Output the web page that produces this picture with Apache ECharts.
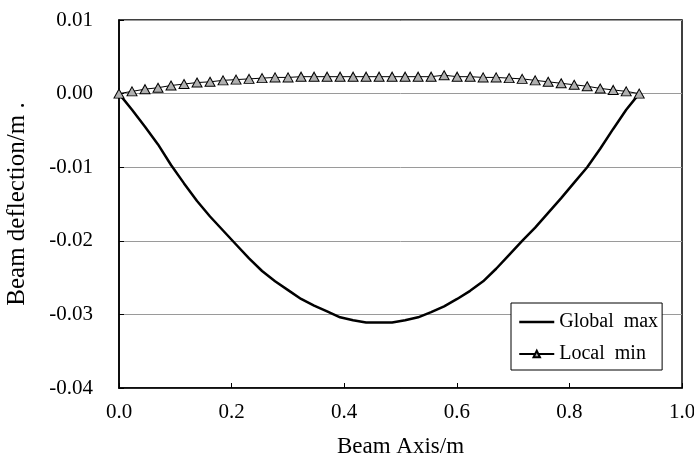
<!DOCTYPE html>
<html>
<head>
<meta charset="utf-8">
<script src="https://cdn.jsdelivr.net/npm/echarts@6/dist/echarts.min.js"></script>
<style>
html,body{margin:0;padding:0;background:#fff;}
#c{width:694px;height:462px;}
</style>
</head>
<body>
<div id="c"></div>
<script>
// Beam axis positions (m)
const beamAxis = [0.0000,0.0231,0.0462,0.0693,0.0924,0.1155,0.1386,0.1617,0.1848,0.2079,
  0.2310,0.2541,0.2772,0.3003,0.3234,0.3465,0.3696,0.3927,0.4158,0.4389,
  0.4620,0.4851,0.5082,0.5313,0.5544,0.5775,0.6006,0.6237,0.6468,0.6699,
  0.6930,0.7161,0.7392,0.7623,0.7854,0.8085,0.8316,0.8547,0.8778,0.9009,0.9240];
// Beam deflection (m), "Global max"
const globalMax = [0,-0.0022,-0.0045,-0.0069,-0.0097,-0.0122,-0.0146,-0.0167,-0.0186,-0.0205,
  -0.0224,-0.0241,-0.0255,-0.0267,-0.0279,-0.0288,-0.0296,-0.0304,-0.0308,-0.0311,
  -0.0311,-0.0311,-0.0308,-0.0304,-0.0297,-0.0289,-0.0279,-0.0268,-0.0255,-0.0238,
  -0.0219,-0.0200,-0.0182,-0.0162,-0.0142,-0.0121,-0.0100,-0.0075,-0.0048,-0.0022,0];
// Beam deflection (m), "Local min"
const localMin = [0,0.0003,0.0006,0.0008,0.0011,0.0013,0.0015,0.0016,0.0018,0.0019,
  0.0020,0.0021,0.0022,0.0022,0.0023,0.0023,0.0023,0.0023,0.0023,0.0023,
  0.0023,0.0023,0.0023,0.0023,0.0023,0.0025,0.0023,0.0023,0.0022,0.0022,
  0.0021,0.0020,0.0018,0.0016,0.0014,0.0012,0.0010,0.0007,0.0005,0.0003,0];
const seriesNames = ['Global  max','Local  min'];
const xTitle = 'Beam Axis/m';
const yTitle = 'Beam deflection/m .';

const FONT = '"Liberation Serif","Times New Roman",serif';
const chart = echarts.init(document.getElementById('c'), null, {renderer:'canvas'});
chart.setOption({
  animation:false,
  backgroundColor:'#fff',
  grid:{left:119,right:12,top:20,bottom:74,containLabel:false,outerBoundsMode:'none',
        show:true,borderColor:'#000',borderWidth:1.5,backgroundColor:'transparent'},
  legend:{
    orient:'vertical', left:511, top:303,
    padding:[9,4,6,7], itemGap:12, itemWidth:35, itemHeight:8,
    borderColor:'#000', borderWidth:1, backgroundColor:'#fff',
    textStyle:{fontFamily:FONT,fontSize:20,color:'#000'},
    data:[
      {name:seriesNames[0], itemStyle:{opacity:0}, lineStyle:{width:2.5,color:'#000'}},
      {name:seriesNames[1]}
    ]
  },
  xAxis:{
    type:'value', min:0, max:1, interval:0.2,
    name:xTitle, nameLocation:'middle', nameGap:47,
    nameTextStyle:{fontFamily:FONT,fontSize:23,color:'#000'},
    axisLine:{show:true,onZero:false,lineStyle:{color:'#000',width:1.5}},
    axisTick:{show:true,inside:true,length:5,lineStyle:{color:'#000',width:1}},
    axisLabel:{fontFamily:FONT,fontSize:21,color:'#000',margin:14,formatter:v=>v.toFixed(1)},
    splitLine:{show:false}
  },
  yAxis:{
    type:'value', min:-0.04, max:0.01, interval:0.01,
    name:yTitle, nameLocation:'middle', nameGap:89, nameRotate:90,
    nameTextStyle:{fontFamily:FONT,fontSize:25,color:'#000'},
    axisLine:{show:true,onZero:false,lineStyle:{color:'#000',width:1.5}},
    axisTick:{show:true,inside:true,length:5,lineStyle:{color:'#000',width:1}},
    axisLabel:{fontFamily:FONT,fontSize:21,color:'#000',margin:26,formatter:v=>v.toFixed(2)},
    splitLine:{show:true,lineStyle:{color:'#9a9a9a',width:1}}
  },
  series:[
    {
      name:seriesNames[0], type:'line',
      data:beamAxis.map((x,i)=>[x,globalMax[i]]),
      showSymbol:false, symbol:'none',
      lineStyle:{color:'#000',width:2.5},
      itemStyle:{color:'#000'},
      z:2
    },
    {
      name:seriesNames[1], type:'line',
      data:beamAxis.map((x,i)=>[x,localMin[i]]),
      symbol:'triangle', symbolSize:[10,9], showSymbol:true,
      lineStyle:{color:'#000',width:1},
      itemStyle:{color:'#b0b0b0',borderColor:'#000',borderWidth:1},
      z:3
    }
  ]
});
</script>
</body>
</html>
